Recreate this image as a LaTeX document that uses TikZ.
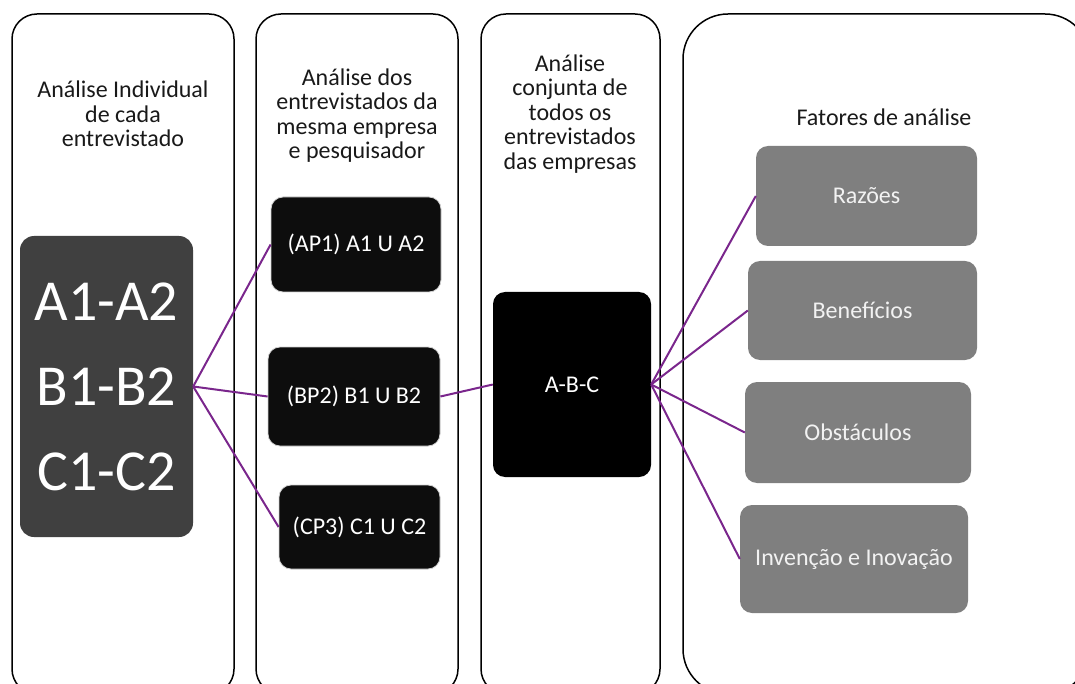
\documentclass[tikz,border=0pt]{standalone}
\usepackage{fontspec}
\setmainfont{Carlito}
\definecolor{linkpurple}{RGB}{122,38,140}
\definecolor{darkbox}{RGB}{64,64,64}
\definecolor{nearblack}{RGB}{13,13,13}
\definecolor{factorgray}{RGB}{127,127,127}
\definecolor{titletext}{RGB}{25,25,25}
\begin{document}
\begin{tikzpicture}[x=1pt,y=-1pt,
  panel/.style={draw=black, line width=1.5pt, rounded corners=25pt},
  bigpanel/.style={draw=black, line width=1.5pt, rounded corners=45pt},
  title/.style={align=center, text=titletext, font=\fontsize{24}{24.5}\selectfont, inner sep=0pt},
  box/.style={rounded corners=12pt, text=white, align=center, inner sep=0pt,
              font=\fontsize{24}{25}\selectfont},
  pairbox/.style={box, fill=nearblack, draw=black!18, line width=0.8pt},
  factorbox/.style={box, fill=factorgray, text=white!95!black},
  link/.style={draw=linkpurple, line width=2pt}
]
\useasboundingbox (0,0) rectangle (1075,684);
\clip (0,0) rectangle (1075,684);

% column frames (their lower edge runs past the page)
\draw[panel] (12,14) rectangle (234,694);
\draw[panel] (256,14) rectangle (458,694);
\draw[panel] (481,14) rectangle (660,694);
\draw[bigpanel] (683,14) rectangle (1090,694);

% column headings
\node[title] (t1) at (123,114) {Análise Individual\\de cada\\entrevistado};
\node[title] (t2) at (357,115.5) {Análise dos\\entrevistados da\\mesma empresa\\e pesquisador};
\node[title] (t3) at (570,114) {Análise\\conjunta de\\todos os\\entrevistados\\das empresas};
\node[title] (t4) at (884,117) {Fatores de análise};

% individual interviews
\node[box, fill=darkbox, minimum width=173pt, minimum height=301pt,
      font=\fontsize{58}{85}\selectfont, rounded corners=14pt]
  (ind) at (106.5,386.5) {A1-A2\\B1-B2\\C1-C2};

% per-company pairs
\node[pairbox, minimum width=170pt, minimum height=95pt] (ap1) at (356,244.5) {(AP1) A1 U A2};
\node[pairbox, minimum width=172pt, minimum height=99pt] (bp2) at (354,396.5) {(BP2) B1 U B2};
\node[pairbox, minimum width=161pt, minimum height=84pt] (cp3) at (359.5,527) {(CP3) C1 U C2};

% joint analysis
\node[box, fill=black, minimum width=158pt, minimum height=185pt] (abc) at (572,384.5) {A-B-C};

% analysis factors
\node[factorbox, minimum width=221pt, minimum height=100pt] (raz) at (866.5,196) {Razões};
\node[factorbox, minimum width=229pt, minimum height=99pt] (ben) at (862.5,310.5) {Benefícios};
\node[factorbox, minimum width=226pt, minimum height=101pt] (obs) at (858,432.5) {Obstáculos};
\node[factorbox, minimum width=228pt, minimum height=108pt] (inv) at (854,559) {Invenção e Inovação};

% connectors
\draw[link] (ind.east) -- (ap1.west);
\draw[link] (ind.east) -- (bp2.west);
\draw[link] (ind.east) -- (cp3.west);
\draw[link] (bp2.east) -- (abc.west);
\draw[link] (abc.east) -- (raz.west);
\draw[link] (abc.east) -- (ben.west);
\draw[link] (abc.east) -- (obs.west);
\draw[link] (abc.east) -- (inv.west);
\end{tikzpicture}
\end{document}
